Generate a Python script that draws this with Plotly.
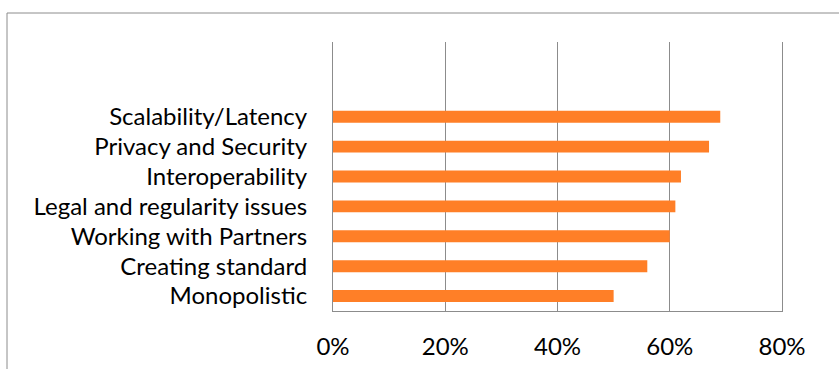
import plotly.graph_objects as go

categories = ["Monopolistic", "Creating standard", "Working with Partners",
              "Legal and regularity issues", "Interoperability",
              "Privacy and Security", "Scalability/Latency"]
values = [0.50, 0.56, 0.60, 0.61, 0.62, 0.67, 0.69]
tick_vals = [0, 0.2, 0.4, 0.6, 0.8]
tick_text = ["0%", "20%", "40%", "60%", "80%"]

W, H = 839, 369
L, R, T, B = 333, 57, 42, 58

fig = go.Figure(go.Bar(
    x=values, y=list(range(len(categories))), orientation="h",
    marker=dict(color="#FF7F27", line=dict(width=0)),
    width=0.4,
))

font = dict(family="Lato", size=24, color="#000000")
fig.update_layout(
    width=W, height=H,
    margin=dict(l=L, r=R, t=T, b=B, pad=0, autoexpand=False),
    paper_bgcolor="white", plot_bgcolor="white",
    showlegend=False,
    font=font,
    xaxis=dict(range=[0, 0.8], tickvals=tick_vals, ticktext=tick_text,
               showgrid=True, gridcolor="#8C8C8C", gridwidth=1,
               showline=True, linecolor="#8C8C8C", linewidth=1,
               zeroline=False, ticks="", ticklabelstandoff=14,
               tickfont=font, automargin=False),
    yaxis=dict(range=[-0.5, 8.5], tickvals=list(range(len(categories))),
               ticktext=categories, showgrid=False, zeroline=False,
               showline=True, mirror=True, linecolor="#8C8C8C", linewidth=1,
               ticks="", ticklabelstandoff=20, tickfont=font, automargin=False),
    shapes=[dict(type="rect", xref="paper", yref="paper",
                 x0=(7 - L) / (W - L - R), x1=2,
                 y0=-1, y1=(H - B - 13) / (H - T - B),
                 line=dict(color="#8C8C8C", width=1), fillcolor="rgba(0,0,0,0)",
                 layer="below")],
)

fig.write_html("out.html")
